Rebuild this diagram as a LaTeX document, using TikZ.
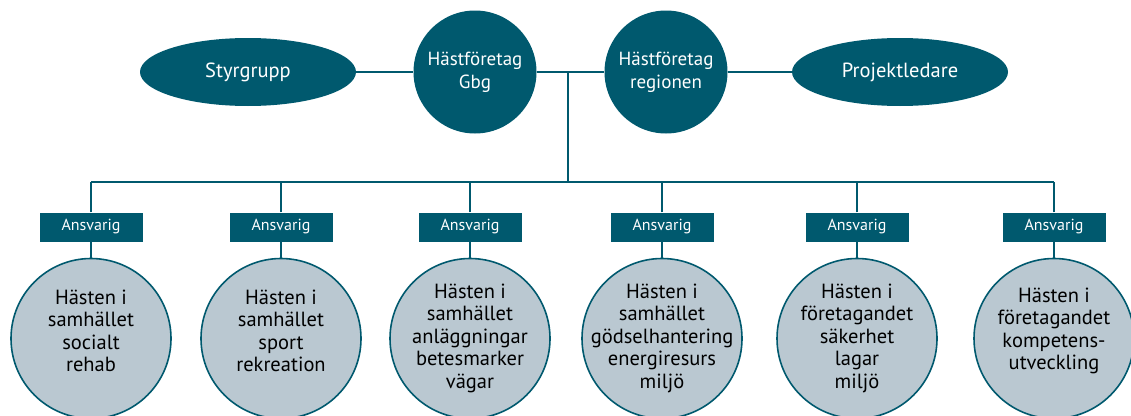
\documentclass[tikz,border=0pt]{standalone}
\usepackage{fontspec}
\setmainfont{PT Sans}
\usetikzlibrary{shapes.geometric}
\definecolor{petrol}{RGB}{0,89,110}
\definecolor{greyblue}{RGB}{186,200,209}
\tikzset{
  link/.style={draw=petrol, line width=1.6pt},
  ovalnode/.style={ellipse, fill=petrol, text=white, minimum width=216pt, minimum height=68pt, inner sep=0pt, font=\fontsize{20.5}{24}\selectfont},
  leadnode/.style={circle, fill=petrol, text=white, minimum size=123pt, inner sep=0pt, align=center, font=\fontsize{19}{23}\selectfont},
  ansbox/.style={rectangle, fill=petrol, text=white, minimum width=103pt, minimum height=29pt, inner sep=0pt, font=\fontsize{16}{19}\selectfont},
  areanode/.style={circle, fill=greyblue, draw=petrol, line width=1.6pt, minimum size=160pt, inner sep=0pt},
  areatext/.style={text=black, align=center, inner sep=0pt, font=\fontsize{20.5}{22.5}\selectfont}
}
\begin{document}
\begin{tikzpicture}[x=1pt, y=-1pt]
\useasboundingbox (0,0) rectangle (1131,415);

% top row
\node[ovalnode] (styr) at (248,72) {Styrgrupp};
\node[leadnode] (gbg) at (475,72) {Hästföretag\\Gbg};
\node[leadnode] (region) at (666,72) {Hästföretag\\regionen};
\node[ovalnode] (proj) at (900,72) {Projektledare};

\draw[link] (styr) -- (gbg);
\draw[link] (gbg) -- (region);
\draw[link] (region) -- (proj);

\coordinate (split) at (568,72);
\coordinate (hub) at (568,182);
\draw[link] (split) -- (hub);

% bottom row
\foreach \i/\x/\ty/\txt in {
  1/91/331/{Hästen i\\samhället\\socialt\\rehab},
  2/281/331/{Hästen i\\samhället\\sport\\rekreation},
  3/470/338/{Hästen i\\samhället\\anläggningar\\betesmarker\\vägar},
  4/662/338/{Hästen i\\samhället\\gödselhantering\\energiresurs\\miljö},
  5/857/338/{Hästen i\\företagandet\\säkerhet\\lagar\\miljö},
  6/1054/331/{Hästen i\\företagandet\\kompetens-\\utveckling}}{
   \node[ansbox] (ans\i) at (\x,227) {Ansvarig};
   \node[areanode] (area\i) at (\x,338.5) {};
   \node[areatext] (label\i) at (\x,\ty) {\txt};
   \draw[link] (ans\i) -- (area\i);
   \draw[link] (ans\i.north) -- (ans\i |- hub);
}

\draw[link] (ans1 |- hub) -- (ans6 |- hub);
\end{tikzpicture}
\end{document}
